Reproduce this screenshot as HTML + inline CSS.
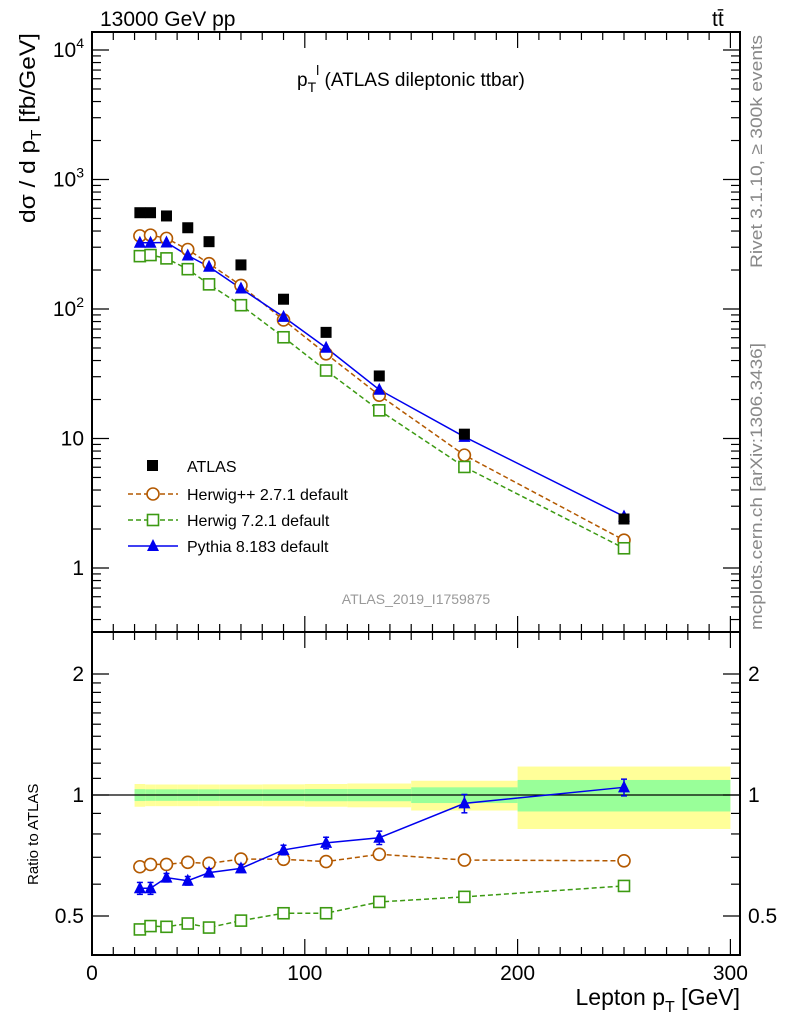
<!DOCTYPE html>
<html><head><meta charset="utf-8"><style>
body{margin:0;background:#fff;}
svg{display:block;font-family:"Liberation Sans",sans-serif;}
</style></head><body>
<svg id="c" width="786" height="1024" viewBox="0 0 786 1024" xmlns="http://www.w3.org/2000/svg">
<text x="100" y="26" font-size="21">13000 GeV pp</text>
<text x="712" y="26" font-size="21">tt̄</text>
<text x="297" y="86" font-size="19">p<tspan font-size="14" dy="6">T</tspan><tspan font-size="14" dy="-17">l</tspan><tspan dy="11"> (ATLAS dileptonic ttbar)</tspan></text>
<text transform="translate(762,268) rotate(-90)" font-size="17" fill="#888" textLength="233" lengthAdjust="spacingAndGlyphs">Rivet 3.1.10, ≥ 300k events</text>
<text transform="translate(762,630) rotate(-90)" font-size="17" fill="#888" textLength="287" lengthAdjust="spacingAndGlyphs">mcplots.cern.ch [arXiv:1306.3436]</text>
<text x="416" y="604" font-size="14" fill="#999" text-anchor="middle">ATLAS_2019_I1759875</text>
<text transform="translate(35,223) rotate(-90)" font-size="22" textLength="190" lengthAdjust="spacingAndGlyphs">dσ / d p<tspan font-size="15" dy="6">T</tspan><tspan dy="-6"> [fb/GeV]</tspan></text>
<text transform="translate(38,885) rotate(-90)" font-size="15">Ratio to ATLAS</text>
<text x="740" y="1005" font-size="23" text-anchor="end">Lepton p<tspan font-size="16" dy="7">T</tspan><tspan dy="-7"> [GeV]</tspan></text>
<g id="g"></g>
</svg>
<script>
const binLo=[20,25,30,40,50,60,80,100,120,150,200];
const binHi=[25,30,40,50,60,80,100,120,150,200,300];
const xPts=[22.5,27.5,35,45,55,70,90,110,135,175,250];
const atlas=[554,554,523,424,331,219,119,66,30.4,10.8,2.39];
const atlasErr=[10,10,10,8,6,4,2.5,1.5,0.8,0.4,0.2];
const herwigpp=[367,372,351,288,224,152,82.3,45.1,21.6,7.44,1.64];
const herwig7=[256,261,246,203,155,107,60.5,33.5,16.5,6.03,1.42];
const pythia=[325,325,326,259,212,144,86.9,50.2,23.8,10.3,2.50];
const rHpp=[0.663,0.672,0.672,0.68,0.676,0.693,0.692,0.683,0.712,0.689,0.686];
const rH7=[0.463,0.472,0.470,0.479,0.468,0.487,0.508,0.508,0.542,0.558,0.594];
const rPy=[0.586,0.586,0.623,0.612,0.641,0.657,0.73,0.76,0.783,0.953,1.045];
const rPyErr=[0.02,0.02,0.015,0.015,0.015,0.015,0.02,0.025,0.03,0.05,0.05];
const bandStat=[0.034,0.033,0.033,0.033,0.033,0.033,0.033,0.035,0.035,0.045,0.09];
const bandTot=[0.065,0.062,0.062,0.062,0.062,0.062,0.063,0.065,0.068,0.085,0.177];
const xTicks=[0,100,200,300];
const mainTicks=[1,10,100,1000,10000];
const ratioTicks=[0.5,1,2];

const NS="http://www.w3.org/2000/svg",G=document.getElementById('g');
const L=92,R=740,T=32,M=632,B=955;
const X=v=>L+v*2.128;
const Y=v=>568-Math.log10(v)*129.5;
const RY=v=>795-Math.log10(v)*402;
function el(t,a,p){const e=document.createElementNS(NS,t);for(const k in a)e.setAttribute(k,a[k]);(p||G).appendChild(e);return e;}

for(let i=0;i<binLo.length;i++){
 const b1=el('rect',{x:X(binLo[i]),y:RY(1+bandTot[i]),width:X(binHi[i])-X(binLo[i]),height:RY(1-bandTot[i])-RY(1+bandTot[i]),fill:'#ffff99'});
 
 
 const b2=el('rect',{x:X(binLo[i]),y:RY(1+bandStat[i]),width:X(binHi[i])-X(binLo[i]),height:RY(1-bandStat[i])-RY(1+bandStat[i]),fill:'#99ff99'});
 
 
}
el('line',{x1:L,x2:R,y1:RY(1),y2:RY(1),stroke:'#000','stroke-width':1.3});

el('rect',{x:L,y:T,width:R-L,height:M-T,fill:'none',stroke:'#000','stroke-width':2});
el('rect',{x:L,y:M,width:R-L,height:B-M,fill:'none',stroke:'#000','stroke-width':2});

for(let v=0;v<=300;v+=10){
 const maj=v%100==0, len=maj?16:8;
 [[T,1],[M,-1],[M,1],[B,-1]].forEach(([y,d])=>el('line',{x1:X(v),x2:X(v),y1:y,y2:y+d*len,stroke:'#000','stroke-width':1.2}));
}
xTicks.forEach(v=>{const t=el('text',{x:X(v),y:980,'font-size':21,'text-anchor':'middle'});t.textContent=v;
 
 });

for(let e=-1;e<=4;e++)for(let m=1;m<10;m++){
 const v=m*Math.pow(10,e),y=Y(v);if(y<T||y>M)continue;
 const len=m==1?17:9;
 el('line',{x1:L,x2:L+len,y1:y,y2:y,stroke:'#000','stroke-width':1.2});
 el('line',{x1:R,x2:R-len,y1:y,y2:y,stroke:'#000','stroke-width':1.2});
}
mainTicks.forEach(v=>{const t=el('text',{x:84,y:Y(v)+7,'font-size':21,'text-anchor':'end'});
 const ex=Math.round(Math.log10(v));
 if(ex<=1)t.textContent=v;else{t.textContent='10';const s=el('tspan',{'font-size':14,dy:-9},t);s.textContent=ex;}
 
 });

[0.5,0.6,0.7,0.8,0.9,1,1.1,1.2,1.3,1.4,1.5,1.6,1.7,1.8,1.9,2].forEach(v=>{
 const y=RY(v);if(y<M||y>B)return;const len=(v==0.5||v==1||v==2)?17:9;
 el('line',{x1:L,x2:L+len,y1:y,y2:y,stroke:'#000','stroke-width':1.2});
 el('line',{x1:R,x2:R-len,y1:y,y2:y,stroke:'#000','stroke-width':1.2});
});
ratioTicks.forEach(v=>{
 const t=el('text',{x:84,y:RY(v)+7,'font-size':21,'text-anchor':'end'});t.textContent=v;
 
 
 const t2=el('text',{x:748,y:RY(v)+7,'font-size':21});t2.textContent=v;
 
 
});

function line(vals,ys,col,dash,name){
 const p=el('polyline',{points:xPts.map((x,i)=>X(x)+','+ys(vals[i])).join(' '),fill:'none',stroke:col,'stroke-width':1.5,'stroke-dasharray':dash||'none'});
 
 
}
function circ(x,y,name){const c=el('circle',{cx:x,cy:y,r:6,fill:'#fff',stroke:'#b35900','stroke-width':1.6});
 
 }
function sq(x,y,name){const c=el('rect',{x:x-5.5,y:y-5.5,width:11,height:11,fill:'#fff',stroke:'#3c9a12','stroke-width':1.6});
 
 }
function tri(x,y,name){const c=el('polygon',{points:`${x-6},${y+5} ${x+6},${y+5} ${x},${y-7}`,fill:'#0000ee'});
 
 }

line(herwigpp,Y,'#b35900','5,3','herwigpp-line');
line(herwig7,Y,'#3c9a12','5,3','herwig7-line');
line(pythia,Y,'#0000ee',null,'pythia-line');
xPts.forEach((x,i)=>{
 circ(X(x),Y(herwigpp[i]),'herwigpp-point');
 sq(X(x),Y(herwig7[i]),'herwig7-point');
 tri(X(x),Y(pythia[i]),'pythia-point');
 el('line',{x1:X(x),x2:X(x),y1:Y(atlas[i]+atlasErr[i]),y2:Y(atlas[i]-atlasErr[i]),stroke:'#000','stroke-width':1.5});
 const a=el('rect',{x:X(x)-5.5,y:Y(atlas[i])-5.5,width:11,height:11,fill:'#000'});
 
 
});

line(rHpp,RY,'#b35900','5,3','herwigpp-ratio-line');
line(rH7,RY,'#3c9a12','5,3','herwig7-ratio-line');
line(rPy,RY,'#0000ee',null,'pythia-ratio-line');
xPts.forEach((x,i)=>{
 circ(X(x),RY(rHpp[i]),'herwigpp-ratio-point');
 sq(X(x),RY(rH7[i]),'herwig7-ratio-point');
 const y1=RY(rPy[i]+rPyErr[i]),y2=RY(rPy[i]-rPyErr[i]);
 el('line',{x1:X(x),x2:X(x),y1:y1,y2:y2,stroke:'#0000ee','stroke-width':1.5});
 el('line',{x1:X(x)-3,x2:X(x)+3,y1:y1,y2:y1,stroke:'#0000ee','stroke-width':1.5});
 el('line',{x1:X(x)-3,x2:X(x)+3,y1:y2,y2:y2,stroke:'#0000ee','stroke-width':1.5});
 tri(X(x),RY(rPy[i]),'pythia-ratio-point');
});

const lg=[['ATLAS',466],['Herwig++ 2.7.1 default',494],['Herwig 7.2.1 default',520],['Pythia 8.183 default',546]];
lg.forEach(([s,y],i)=>{
 const t=el('text',{x:187,y:y+6,'font-size':16});t.textContent=s;
 
 
});
el('rect',{x:147,y:460,width:11,height:11,fill:'#000'});
el('line',{x1:128,x2:178,y1:494,y2:494,stroke:'#b35900','stroke-width':1.5,'stroke-dasharray':'5,3'});circ(153,494,'legend-herwigpp-marker');
el('line',{x1:128,x2:178,y1:520,y2:520,stroke:'#3c9a12','stroke-width':1.5,'stroke-dasharray':'5,3'});sq(153,520,'legend-herwig7-marker');
el('line',{x1:128,x2:178,y1:546,y2:546,stroke:'#0000ee','stroke-width':1.5});tri(153,546,'legend-pythia-marker');
</script>
</body></html>
